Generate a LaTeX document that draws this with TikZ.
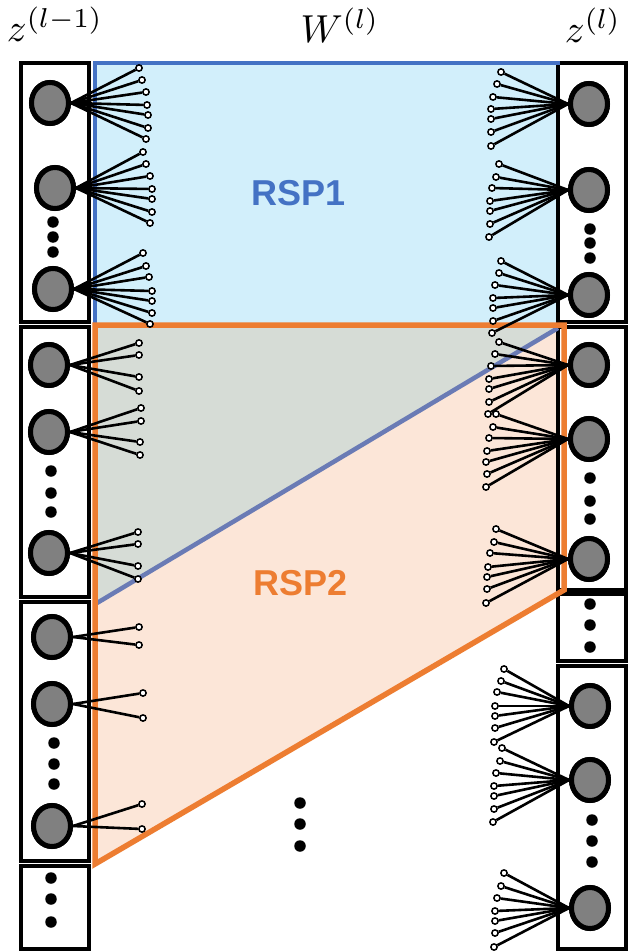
\documentclass[tikz,border=0pt]{standalone}
\usepackage{graphicx}
\usepackage{fontspec}
\newfontfamily\rspfont{Liberation Sans}
\usetikzlibrary{shapes.geometric}
\definecolor{rspblue}{HTML}{4472C4}
\definecolor{rspbluefill}{HTML}{D2EFFB}
\definecolor{rsporange}{HTML}{ED7D31}
\definecolor{rsporangefill}{HTML}{FCE6D8}
\definecolor{overlapfill}{HTML}{D6DCD6}
\definecolor{diagblue}{HTML}{6A7BB5}
\definecolor{neurongray}{HTML}{808080}
\newcommand{\fan}[3]{%
  \foreach \tx/\ty [count=\i] in {#3}{%
    \node[tip] (#1-\i) at (\tx,\ty) {};
    \draw[fanline] (#1.#2) -- (#1-\i);
  }}
\begin{document}
\begin{tikzpicture}[x=1pt,y=-1pt,
  neuron/.style={ellipse, draw=black, line width=5pt, fill=neurongray,
    minimum width=37pt, minimum height=41pt, inner sep=0pt},
  tip/.style={circle, draw=black, line width=1.5pt, fill=white,
    minimum size=6.3pt, inner sep=0pt},
  fanline/.style={line width=2.6pt},
  dotnode/.style={circle, fill=black, minimum size=11.5pt, inner sep=0pt},
  colbox/.style={draw=black, line width=4pt, fill=white},
  mathlabel/.style={anchor=base, inner sep=0pt},
  rsplabel/.style={anchor=base, inner sep=0pt, font=\fontsize{36}{36}\selectfont\rspfont\bfseries}]
\useasboundingbox (0,0) rectangle (633,952);
\fill[white] (0,0) rectangle (633,952);

% region fills
\fill[rspbluefill] (95,63) -- (558,63) -- (558,328) -- (97,603) -- cycle;
\fill[rsporangefill] (95,325) -- (564,325) -- (564,590) -- (95,864) -- cycle;
\fill[overlapfill] (95,325) -- (558,325) -- (558,328) -- (97,603) -- (95,603) -- cycle;

% column boxes
\draw[colbox] (21,63) rectangle (89,322);
\draw[colbox] (21,327) rectangle (89,597);
\draw[colbox] (21,602) rectangle (89,861);
\draw[colbox] (21,866) rectangle (89,949);
\draw[colbox] (558,63) rectangle (626,322);
\draw[colbox] (558,327) rectangle (626,590);
\draw[colbox] (558,594) rectangle (626,661);
\draw[colbox] (558,666) rectangle (626,949);

% region borders
\draw[rspblue, line width=4.5pt] (560,63) -- (95,63) -- (95,325);
\draw[diagblue, line width=4.5pt] (97,603) -- (558,328);
\draw[rsporange, line width=5.5pt, line join=miter] (95,325) -- (564,325) -- (564,590) -- (95,864) -- cycle;

% left neurons
\node[neuron] (La1) at (50,103) {};
\node[neuron] (La2) at (55,188) {};
\node[neuron] (La3) at (53,289) {};
\node[neuron] (Lb1) at (49,365) {};
\node[neuron] (Lb2) at (49,432) {};
\node[neuron] (Lb3) at (49,553) {};
\node[neuron] (Lc1) at (52,637) {};
\node[neuron] (Lc2) at (52,704) {};
\node[neuron] (Lc3) at (52,826) {};
% right neurons
\node[neuron] (Ra1) at (589,104) {};
\node[neuron] (Ra2) at (589,190) {};
\node[neuron] (Ra3) at (589,295) {};
\node[neuron] (Rb1) at (589,365) {};
\node[neuron] (Rb2) at (589,439) {};
\node[neuron] (Rb3) at (589,559) {};
\node[neuron] (Rd1) at (590,706) {};
\node[neuron] (Rd2) at (590,780) {};
\node[neuron] (Rd3) at (590,908) {};

% fans
\fan{La1}{east}{139/68,142/80,146/92,147/105,148/115,148/128,146/139}
\fan{La2}{east}{143/152,146/164,150/176,152/189,152/199,152/212,150/223}
\fan{La3}{east}{143/253,146/266,149/277,152/291,152/301,152/313,150/324}
\fan{Lb1}{east}{139/343,139/355,139/377,139/391}
\fan{Lb2}{east}{141/408,141/421,140/442,140/455}
\fan{Lb3}{east}{138/532,138/544,138/566,138/579}
\fan{Lc1}{east}{139/627,139/645}
\fan{Lc2}{east}{143/693,143/718}
\fan{Lc3}{east}{142/804,142/829}
\fan{Ra1}{west}{501/72,497/84,493/97,491/109,491/119,491/132,491/146}
\fan{Ra2}{west}{499/164,496/177,492/188,490/201,490/211,490/224,489/237}
\fan{Ra3}{west}{501/261,499/273,495/285,493/298,493/308,493/321,492/333}
\fan{Rb1}{west}{499/342,495/354,491/366,489/379,489/389,489/402,488/414}
\fan{Rb2}{west}{496/414,493/427,489/438,487/451,486/462,487/474,486/487}
\fan{Rb3}{west}{496/529,494/542,490/553,488/567,487/577,487/589,486/603}
\fan{Rd1}{west}{504/669,501/681,497/692,495/706,495/716,495/728,494/742}
\fan{Rd2}{west}{502/748,500/761,496/773,494/786,494/796,494/809,493/822}
\fan{Rd3}{west}{504/873,501/886,497/898,495/911,495/921,495/933,494/947}

% redraw neurons on top of fan starts
\foreach \n in {La1,La2,La3,Lb1,Lb2,Lb3,Lc1,Lc2,Lc3,Ra1,Ra2,Ra3,Rb1,Rb2,Rb3,Rd1,Rd2,Rd3}{
  \draw[line width=5pt, fill=neurongray] (\n.center) ellipse [x radius=18.5pt, y radius=20.5pt];
}

% ellipsis dots
\foreach \x/\y [count=\k] in {53/222,53/237,53/252, 51/471,51/493,51/512,
    54/743,54/764,54/784, 51/878,51/899,51/922,
    590/229,590/243,590/258, 590/478,590/501,590/519,
    590/604,590/625,590/647, 592/820,592/841,592/862,
    300/803,300/824,300/846}{
  \node[dotnode] (dot\k) at (\x,\y) {};
}

% labels
\node[mathlabel] (lblzprev) at (55,42) {\scalebox{3.9}{$z^{(l-1)}$}};
\node[mathlabel] (lblW) at (340,43) {\scalebox{3.9}{$W^{(l)}$}};
\node[mathlabel] (lblz) at (593,43) {\scalebox{3.9}{$z^{(l)}$}};
\node[rsplabel, text=rspblue] (rsp1) at (299,205) {RSP1};
\node[rsplabel, text=rsporange] (rsp2) at (301,595) {RSP2};
\end{tikzpicture}
\end{document}
